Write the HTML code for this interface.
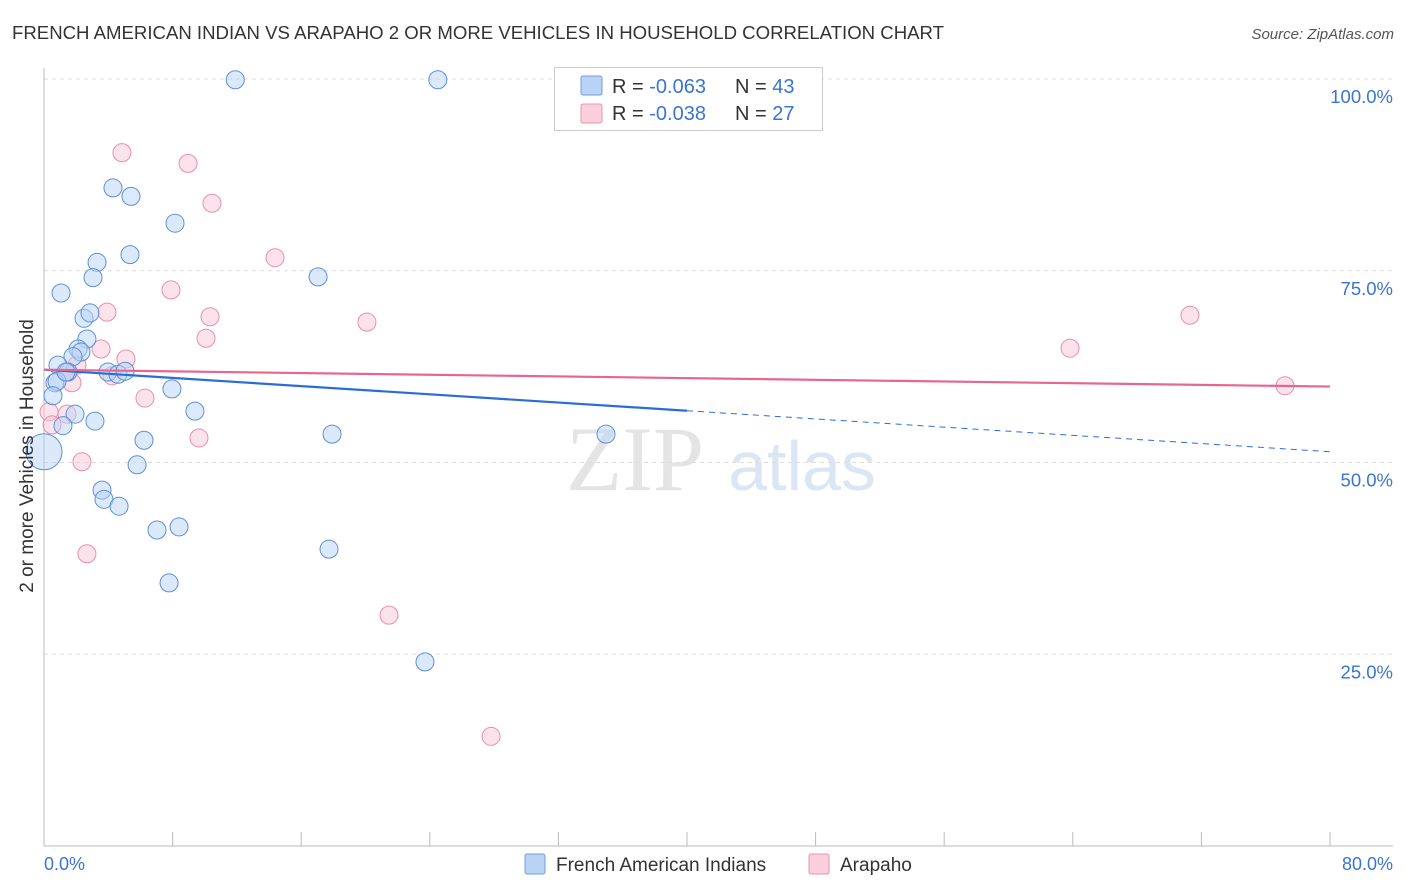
<!DOCTYPE html>
<html><head><meta charset="utf-8"><style>
body{margin:0;background:#fff;font-family:"Liberation Sans",Arial,sans-serif;}
svg{display:block}
</style></head><body>
<svg id="chart" width="1406" height="892" viewBox="0 0 1406 892">
<text x="12" y="39" font-size="18.5" fill="#333" textLength="932" lengthAdjust="spacingAndGlyphs">FRENCH AMERICAN INDIAN VS ARAPAHO 2 OR MORE VEHICLES IN HOUSEHOLD CORRELATION CHART</text>
<text x="1394" y="39" font-size="15" fill="#555" font-style="italic" text-anchor="end">Source: ZipAtlas.com</text>
<g>
<text x="635" y="490" font-size="92" fill="#e4e4e4" font-family="Liberation Serif,serif" text-anchor="middle">ZIP</text>
<text x="802" y="490" font-size="70" fill="#dbe6f5" text-anchor="middle">atlas</text>
</g>
<g id="grid"></g>
<g id="axes"></g>
<g id="marks"></g>
<g id="trends"></g>
<text transform="translate(33,456) rotate(-90)" font-size="19" fill="#333" text-anchor="middle">2 or more Vehicles in Household</text>
<text x="44" y="870" font-size="18" fill="#3a74d4">0.0%</text>
<text x="1393" y="870" font-size="18" fill="#3a74d4" text-anchor="end">80.0%</text>
<g>
<rect x="554.5" y="67.5" width="268" height="63" fill="#fff" stroke="#ccc"/>
<rect x="581" y="76" width="21" height="19" fill="#b9d3f5" stroke="#6f9de0" rx="2"/>
<rect x="581" y="104" width="21" height="19" fill="#fbd0dc" stroke="#ea93ad" rx="2"/>
<text x="612" y="93" font-size="20" fill="#333">R = <tspan fill="#3a74d4">-0.063</tspan></text>
<text x="735" y="93" font-size="20" fill="#333">N = <tspan fill="#3a74d4">43</tspan></text>
<text x="612" y="120" font-size="20" fill="#333">R = <tspan fill="#3a74d4">-0.038</tspan></text>
<text x="735" y="120" font-size="20" fill="#333">N = <tspan fill="#3a74d4">27</tspan></text>
</g>
<g>
<rect x="525" y="854" width="20" height="20" fill="#b9d3f5" stroke="#6f9de0" rx="2"/>
<text x="556" y="871" font-size="19" fill="#333">French American Indians</text>
<rect x="809" y="854" width="20" height="20" fill="#fbd0dc" stroke="#ea93ad" rx="2"/>
<text x="840" y="871" font-size="19" fill="#333">Arapaho</text>
</g>
</svg>
<script>
const blueX=[11.9,24.5,4.29,5.41,8.15,5.35,3.30,3.05,17.05,1.06,2.49,2.86,2.67,2.12,2.30,1.80,0.87,1.49,0.68,0.81,0.56,3.98,4.60,5.04,7.96,1.93,3.17,1.18,9.39,6.22,17.92,34.96,5.79,3.61,3.73,4.67,7.03,8.40,17.73,7.78,23.70,0,1.37];
const blueY=[99.9,99.9,85.8,84.7,81.2,77.1,76.1,74.1,74.2,72.1,68.8,69.5,66.1,64.8,64.4,63.8,62.7,61.8,60.4,60.6,58.7,61.8,61.5,61.9,59.6,56.3,55.4,54.8,56.7,52.9,53.7,53.7,49.7,46.4,45.2,44.3,41.2,41.6,38.7,34.3,24.0,51.4,61.8];
const pinkX=[4.85,8.96,10.45,14.37,7.90,3.92,10.33,20.09,10.08,3.55,5.10,2.05,4.23,1.74,6.28,1.43,0.31,0.50,9.64,2.36,2.67,21.46,27.81,63.83,71.29,77.20,1.49];
const pinkY=[90.4,89.0,83.8,76.7,72.5,69.6,69.0,68.3,66.2,64.8,63.5,62.7,61.3,60.4,58.4,56.3,56.6,54.9,53.2,50.1,38.1,30.1,14.3,64.9,69.2,60.0,61.8];
const yTicks=[25,50,75,100];
const yTickLabels=["25.0%","50.0%","75.0%","100.0%"];
const xTicks=[0,8,16,24,32,40,48,56,64,72,80];
const blueTrend=[62.1,51.4];
const pinkTrend=[62.1,59.9];
const blueSolidEnd=40;

const NS="http://www.w3.org/2000/svg";
const X=v=>44+v/80*1286;
const Y=v=>846-v/100*767;
function mk(tag,attrs,parent){const e=document.createElementNS(NS,tag);for(const k in attrs)e.setAttribute(k,attrs[k]);parent.appendChild(e);return e;}
const grid=document.getElementById('grid'),axes=document.getElementById('axes'),marks=document.getElementById('marks'),trends=document.getElementById('trends');
yTicks.forEach((t,i)=>{
 const l=mk('line',{x1:44,x2:1393,y1:Y(t),y2:Y(t),stroke:'#ddd','stroke-dasharray':'4,4'},grid);
 
 
 const tx=mk('text',{x:1393,y:Y(t)+24,'font-size':18.5,fill:'#3a74d4','text-anchor':'end'},grid);
 tx.textContent=yTickLabels[i];
 
 
});
const ax=mk('line',{x1:44,x2:1393,y1:846,y2:846,stroke:'#bbb'},axes);


const ay=mk('line',{x1:44,x2:44,y1:68,y2:846,stroke:'#bbb'},axes);


xTicks.forEach(t=>{
 const l=mk('line',{x1:X(t),x2:X(t),y1:832,y2:846,stroke:'#bbb'},axes);
 
 
});
function pts(xs,ys,fill,stroke,name){
 xs.forEach((x,i)=>{
  const big=(x===0&&name==='blue');
  const c=mk('circle',{cx:X(x),cy:Y(ys[i]),r:big?18:9,fill:fill,'fill-opacity':0.5,stroke:stroke,'stroke-width':1},marks);
  
  
 });
}
pts(pinkX,pinkY,'#f9c6d5','#ea8fab','pink');
pts(blueX,blueY,'#b9d3f5','#5c8fdc','blue');
const slope=(blueTrend[1]-blueTrend[0])/80;
const bl=mk('line',{x1:X(0),y1:Y(blueTrend[0]),x2:X(blueSolidEnd),y2:Y(blueTrend[0]+slope*blueSolidEnd),stroke:'#2a6dd9','stroke-width':2.2},trends);


const bd=mk('line',{x1:X(blueSolidEnd),y1:Y(blueTrend[0]+slope*blueSolidEnd),x2:X(80),y2:Y(blueTrend[1]),stroke:'#2a6dd9','stroke-width':1,'stroke-dasharray':'6,5'},trends);


const pl=mk('line',{x1:X(0),y1:Y(pinkTrend[0]),x2:X(80),y2:Y(pinkTrend[1]),stroke:'#e6668f','stroke-width':2.2},trends);


</script>
</body></html>
